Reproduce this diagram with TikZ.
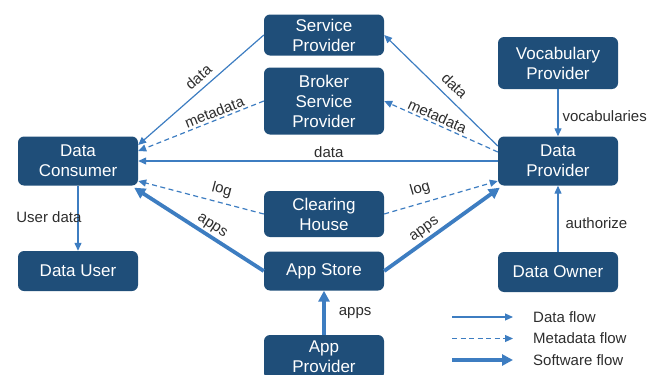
\documentclass[tikz,border=0pt]{standalone}
\usepackage{fontspec}
\setmainfont{Liberation Sans}
\usepackage{tikz}
\usetikzlibrary{arrows.meta}
\definecolor{boxblue}{RGB}{31,78,121}
\definecolor{flowblue}{RGB}{61,125,193}
\definecolor{lblgray}{RGB}{45,45,45}

\begin{document}
\begin{tikzpicture}[x=1pt,y=-1pt,
  box/.style={fill=boxblue,rounded corners=6pt,text=white,minimum width=120pt,inner sep=0pt,align=center,font=\fontsize{17}{20}\selectfont},
  lbl/.style={font=\fontsize{15}{18}\selectfont,text=lblgray,inner sep=2pt},
  dataflow/.style={draw=flowblue,line width=1.2pt,-{Triangle[length=8pt,width=7pt]}},
  metaflow/.style={dataflow,dash pattern=on 5pt off 3.5pt},
  softflow/.style={draw=flowblue,line width=3.8pt,-{Triangle[length=11pt,width=11pt]}}]
\useasboundingbox (0,0) rectangle (649,375);
\clip (0,0) rectangle (649,375);
\foreach \n/\x/\y/\h/\t in {sp/324/35/41/{Service\\Provider},
  bsp/324/101/67/{Broker\\Service\\Provider},
  dc/78/161/49/{Data\\Consumer},
  vp/558/63/52/{Vocabulary\\Provider},
  dp/558/161/49/{Data\\Provider},
  ch/324/214/46/{Clearing\\House},
  as/324/271/39/{App Store},
  du/78/271/40/{Data User},
  own/558/272/40/{Data Owner},
  ap/324/357/44/{App\\Provider}} {
  \node[box,minimum height=\h pt] (\n) at (\x,\y) {\t};
}
\draw[dataflow] (sp.west) -- ([yshift=16pt]dc.east) node[lbl,pos=0.46,sloped,above=3.5pt]{data};
\draw[metaflow] (bsp.west) -- ([yshift=10pt]dc.east) node[lbl,pos=0.37,sloped,above]{metadata};
\draw[dataflow] (dp.west) -- (dc.east) node[lbl,pos=0.47,above=1pt]{data};
\draw[metaflow] (ch.west) -- ([yshift=-20pt]dc.east) node[lbl,pos=0.36,sloped,above=3pt]{log};
\draw[metaflow] (ch.east) -- ([yshift=-20pt]dp.west) node[lbl,pos=0.35,sloped,above=4pt]{log};
\draw[softflow] (as.west) -- ([xshift=-4pt,yshift=-2pt]dc.south east) node[lbl,pos=0.44,sloped,above]{apps};
\draw[softflow] (as.east) -- ([xshift=2pt,yshift=-2pt]dp.south west) node[lbl,pos=0.4,sloped,above]{apps};
\draw[dataflow] ([yshift=15pt]dp.west) -- (sp.east) node[lbl,pos=0.46,sloped,above=5pt]{data};
\draw[metaflow] ([yshift=9pt]dp.west) -- (bsp.east) node[lbl,pos=0.56,sloped,above]{metadata};
\draw[dataflow] (vp.south) -- (dp.north) node[lbl,pos=0.58,right=2pt]{vocabularies};
\draw[dataflow] (own.north) -- (dp.south) node[lbl,pos=0.44,right=5pt]{authorize};
\draw[dataflow] (dc.south) -- (du.north) node[lbl,pos=0.49,left,xshift=6pt]{User data};
\draw[softflow] (ap.north) -- (as.south) node[lbl,pos=0.49,right=11pt]{apps};
\foreach \i/\s/\t in {0/dataflow/Data flow,1/metaflow/Metadata flow,2/softflow/Software flow} {
  \coordinate (la_\i) at (452,317+21.5*\i);
  \coordinate (lb_\i) at (513,317+21.5*\i);
  \node[lbl,anchor=west] (lt_\i) at (531,317+21.5*\i) {\t};
  \draw[\s] (la_\i) -- (lb_\i);
}
\end{tikzpicture}
\end{document}
